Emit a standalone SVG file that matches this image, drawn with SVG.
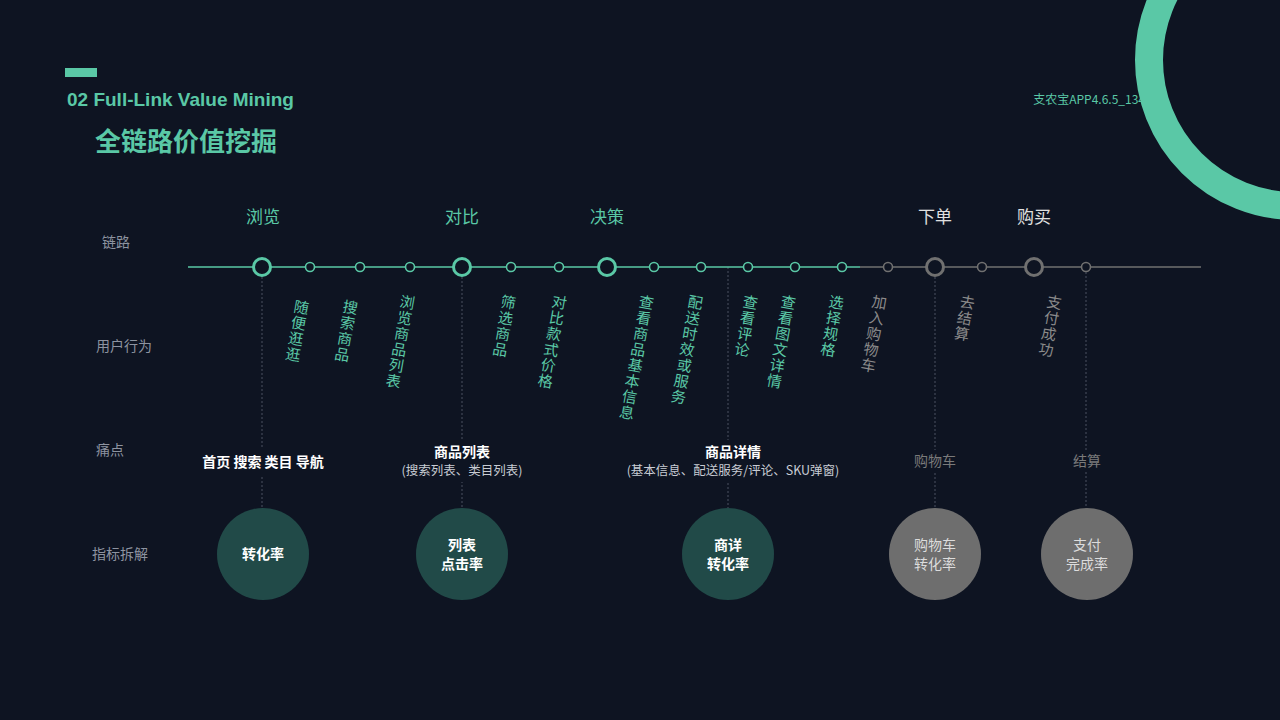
<svg xmlns="http://www.w3.org/2000/svg" width="1280" height="720" viewBox="0 0 1280 720">
<style>
text{font-family:"Noto Sans CJK SC","Liberation Sans",sans-serif}
.t{fill:#5ac8a6}
.g{fill:#8a8a8a}
.lab{fill:#8d93a0;font-size:14px}
.v{font-size:15px}
.dl{stroke:#4a5060;stroke-width:1;stroke-dasharray:2 2}
.bigT{fill:#0e1422;stroke:#5ac8a6;stroke-width:3}
.smT{fill:#0e1422;stroke:#5ac8a6;stroke-width:1.6}
.bigG{fill:#0e1422;stroke:#707070;stroke-width:3}
.smG{fill:#0e1422;stroke:#707070;stroke-width:1.6}
.w{fill:#ffffff;font-size:14px;font-weight:bold}
</style>
<rect width="1280" height="720" fill="#0e1422"/>
<circle cx="1295" cy="60" r="146" fill="none" stroke="#5ac8a6" stroke-width="28"/>
<rect x="65" y="68" width="32" height="9" fill="#5ac8a6"/>
<text x="67" y="106" class="t" font-size="19" font-weight="bold" style="font-family:'Liberation Sans',sans-serif">02  Full-Link Value Mining</text>
<text x="95" y="151" class="t" font-size="26" font-weight="bold">全链路价值挖掘</text>
<text x="1145" y="104" class="t" font-size="12" text-anchor="end">支农宝APP4.6.5_134</text>

<g id="row-labels">
<text x="116" y="247" class="lab" text-anchor="middle">链路</text>
<text x="124" y="351" class="lab" text-anchor="middle">用户行为</text>
<text x="110" y="455" class="lab" text-anchor="middle">痛点</text>
<text x="120" y="559" class="lab" text-anchor="middle">指标拆解</text>
</g>

<g id="connectors">
<line x1="262" y1="277" x2="262" y2="510" class="dl"/>
<line x1="462" y1="277" x2="462" y2="510" class="dl"/>
<line x1="728" y1="267" x2="728" y2="510" class="dl"/>
<line x1="935" y1="277" x2="935" y2="510" class="dl"/>
<line x1="1086" y1="272" x2="1086" y2="510" class="dl"/>
<line x1="188" y1="267" x2="860" y2="267" stroke="#5ac8a6" stroke-width="1.6"/>
<line x1="860" y1="267" x2="1201" y2="267" stroke="#707070" stroke-width="1.6"/>
</g>

<g id="stages" font-size="17">
<text x="263" y="223" class="t" text-anchor="middle">浏览</text>
<text x="462" y="223" class="t" text-anchor="middle">对比</text>
<text x="607" y="223" class="t" text-anchor="middle">决策</text>
<text x="935" y="223" fill="#e0e0e0" text-anchor="middle">下单</text>
<text x="1034" y="223" fill="#e0e0e0" text-anchor="middle">购买</text>
</g>

<g id="nodes-timeline">
<circle cx="262" cy="267" r="8.5" class="bigT"/>
<circle cx="462" cy="267" r="8.5" class="bigT"/>
<circle cx="607" cy="267" r="8.5" class="bigT"/>
<circle cx="935" cy="267" r="8.5" class="bigG"/>
<circle cx="1034" cy="267" r="8.5" class="bigG"/>
<circle cx="310" cy="267" r="4.5" class="smT"/>
<circle cx="360" cy="267" r="4.5" class="smT"/>
<circle cx="410" cy="267" r="4.5" class="smT"/>
<circle cx="511" cy="267" r="4.5" class="smT"/>
<circle cx="559" cy="267" r="4.5" class="smT"/>
<circle cx="654" cy="267" r="4.5" class="smT"/>
<circle cx="701" cy="267" r="4.5" class="smT"/>
<circle cx="748" cy="267" r="4.5" class="smT"/>
<circle cx="795" cy="267" r="4.5" class="smT"/>
<circle cx="842" cy="267" r="4.5" class="smT"/>
<circle cx="888" cy="267" r="4.5" class="smG"/>
<circle cx="982" cy="267" r="4.5" class="smG"/>
<circle cx="1086" cy="267" r="4.5" class="smG"/>
</g>

<g id="actions" class="v" text-anchor="middle">
<g transform="translate(303,298) rotate(10)"><text class="t"><tspan x="0" y="15">随</tspan><tspan x="0" y="31">便</tspan><tspan x="0" y="47">逛</tspan><tspan x="0" y="63">逛</tspan></text></g>
<g transform="translate(352,298) rotate(10)"><text class="t"><tspan x="0" y="15">搜</tspan><tspan x="0" y="31">索</tspan><tspan x="0" y="47">商</tspan><tspan x="0" y="63">品</tspan></text></g>
<g transform="translate(409,293) rotate(10)"><text class="t"><tspan x="0" y="15">浏</tspan><tspan x="0" y="31">览</tspan><tspan x="0" y="47">商</tspan><tspan x="0" y="63">品</tspan><tspan x="0" y="79">列</tspan><tspan x="0" y="95">表</tspan></text></g>
<g transform="translate(510,293) rotate(10)"><text class="t"><tspan x="0" y="15">筛</tspan><tspan x="0" y="31">选</tspan><tspan x="0" y="47">商</tspan><tspan x="0" y="63">品</tspan></text></g>
<g transform="translate(561,293) rotate(10)"><text class="t"><tspan x="0" y="15">对</tspan><tspan x="0" y="31">比</tspan><tspan x="0" y="47">款</tspan><tspan x="0" y="63">式</tspan><tspan x="0" y="79">价</tspan><tspan x="0" y="95">格</tspan></text></g>
<g transform="translate(648,293) rotate(10)"><text class="t"><tspan x="0" y="15">查</tspan><tspan x="0" y="31">看</tspan><tspan x="0" y="47">商</tspan><tspan x="0" y="63">品</tspan><tspan x="0" y="79">基</tspan><tspan x="0" y="95">本</tspan><tspan x="0" y="111">信</tspan><tspan x="0" y="127">息</tspan></text></g>
<g transform="translate(697,293) rotate(10)"><text class="t"><tspan x="0" y="15">配</tspan><tspan x="0" y="31">送</tspan><tspan x="0" y="47">时</tspan><tspan x="0" y="63">效</tspan><tspan x="0" y="79">或</tspan><tspan x="0" y="95">服</tspan><tspan x="0" y="111">务</tspan></text></g>
<g transform="translate(752,293) rotate(10)"><text class="t"><tspan x="0" y="15">查</tspan><tspan x="0" y="31">看</tspan><tspan x="0" y="47">评</tspan><tspan x="0" y="63">论</tspan></text></g>
<g transform="translate(790,293) rotate(10)"><text class="t"><tspan x="0" y="15">查</tspan><tspan x="0" y="31">看</tspan><tspan x="0" y="47">图</tspan><tspan x="0" y="63">文</tspan><tspan x="0" y="79">详</tspan><tspan x="0" y="95">情</tspan></text></g>
<g transform="translate(838,293) rotate(10)"><text class="t"><tspan x="0" y="15">选</tspan><tspan x="0" y="31">择</tspan><tspan x="0" y="47">规</tspan><tspan x="0" y="63">格</tspan></text></g>
<g transform="translate(881,293) rotate(10)"><text class="g"><tspan x="0" y="15">加</tspan><tspan x="0" y="31">入</tspan><tspan x="0" y="47">购</tspan><tspan x="0" y="63">物</tspan><tspan x="0" y="79">车</tspan></text></g>
<g transform="translate(969,293) rotate(10)"><text class="g"><tspan x="0" y="15">去</tspan><tspan x="0" y="31">结</tspan><tspan x="0" y="47">算</tspan></text></g>
<g transform="translate(1056,293) rotate(10)"><text class="g"><tspan x="0" y="15">支</tspan><tspan x="0" y="31">付</tspan><tspan x="0" y="47">成</tspan><tspan x="0" y="63">功</tspan></text></g>
</g>

<g id="pain-points" text-anchor="middle">
<rect x="190" y="448" width="145" height="28" fill="#0e1422"/>
<text x="263" y="467" class="w">首页 搜索 类目 导航</text>
<rect x="385" y="440" width="155" height="42" fill="#0e1422"/>
<text x="462" y="457" class="w">商品列表</text>
<text x="462" y="475" fill="#c8ccd4" font-size="12.5">(搜索列表、类目列表)</text>
<rect x="610" y="440" width="240" height="42" fill="#0e1422"/>
<text x="733" y="457" class="w">商品详情</text>
<text x="733" y="475" fill="#c8ccd4" font-size="12.5">(基本信息、配送服务/评论、SKU弹窗)</text>
<rect x="905" y="450" width="60" height="22" fill="#0e1422"/>
<text x="935" y="466" fill="#7a7a7a" font-size="14">购物车</text>
<rect x="1062" y="450" width="50" height="22" fill="#0e1422"/>
<text x="1087" y="466" fill="#7a7a7a" font-size="14">结算</text>
</g>

<g id="metric-1"><circle cx="263" cy="554" r="46" fill="#214a48"/><text x="263" y="559" class="w" text-anchor="middle">转化率</text></g>
<g id="metric-2"><circle cx="462" cy="554" r="46" fill="#214a48"/><text x="462" y="550" class="w" text-anchor="middle">列表</text><text x="462" y="569" class="w" text-anchor="middle">点击率</text></g>
<g id="metric-3"><circle cx="728" cy="554" r="46" fill="#214a48"/><text x="728" y="550" class="w" text-anchor="middle">商详</text><text x="728" y="569" class="w" text-anchor="middle">转化率</text></g>
<g id="metric-4"><circle cx="935" cy="554" r="46" fill="#6e6e6e"/><text x="935" y="550" fill="#dcdcdc" font-size="14" text-anchor="middle">购物车</text><text x="935" y="569" fill="#dcdcdc" font-size="14" text-anchor="middle">转化率</text></g>
<g id="metric-5"><circle cx="1087" cy="554" r="46" fill="#6e6e6e"/><text x="1087" y="550" fill="#dcdcdc" font-size="14" text-anchor="middle">支付</text><text x="1087" y="569" fill="#dcdcdc" font-size="14" text-anchor="middle">完成率</text></g>
</svg>
